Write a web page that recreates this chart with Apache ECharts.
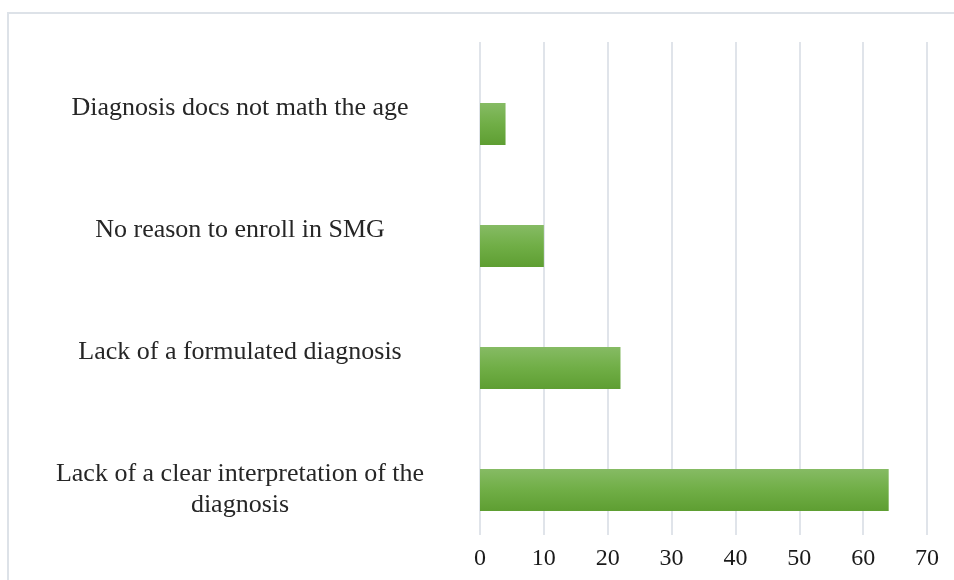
<!DOCTYPE html>
<html>
<head>
<meta charset="utf-8">
<script type="text/javascript" src="https://cdn.jsdelivr.net/npm/echarts@6/dist/echarts.min.js"></script>
<style>
  html, body { margin: 0; padding: 0; background: #fff; }
  #wrap { position: relative; width: 954px; height: 580px; overflow: hidden; }
  #frame { position: absolute; left: 7px; top: 12px; width: 1000px; height: 700px; border: 2px solid #dde2e8; }
  #container { position: absolute; left: 0; top: 0; width: 954px; height: 580px; }
</style>
</head>
<body>
<div id="wrap">
  <div id="frame"></div>
  <div id="container"></div>
</div>
<script type="text/javascript">
// data
var categories = [
    'Diagnosis docs not math the age',
    'No reason to enroll in SMG',
    'Lack of a formulated diagnosis',
    'Lack of a clear interpretation of the\ndiagnosis'
];
var values = [4, 10, 22, 64];
var xMin = 0, xMax = 70, xStep = 10;

window.onload = function () {
    var myChart = echarts.init(document.getElementById('container'));
    var serif = '"Liberation Serif", "DejaVu Serif", serif';

    var option = {
        animation: false,
        grid: [
            // grid for vertical grid lines + value labels
            {left: 480, width: 447, top: 42, height: 493},
            // grid for bars + category labels
            {left: 480, width: 447, top: 63, height: 488}
        ],
        xAxis: [
            {
                gridIndex: 0, type: 'value', min: xMin, max: xMax, interval: xStep,
                axisLine: {show: false}, axisTick: {show: false},
                splitLine: {show: true, lineStyle: {color: '#e0e4ea', width: 2}},
                axisLabel: {margin: 12, fontFamily: serif, fontSize: 24, color: '#1a1a1a'}
            },
            {
                gridIndex: 1, type: 'value', min: xMin, max: xMax, interval: xStep,
                show: false, splitLine: {show: false}
            }
        ],
        yAxis: [
            {
                gridIndex: 0, type: 'category', data: categories, show: false
            },
            {
                gridIndex: 1, type: 'category', data: categories, inverse: true,
                axisLine: {show: false}, axisTick: {show: false},
                axisLabel: {
                    margin: 240,
                    align: 'center',
                    verticalAlign: 'middle',
                    fontFamily: serif, fontSize: 26, color: '#262626',
                    lineHeight: 31,
                    padding: [0, 0, 17, 0],
                    formatter: function (v) {
                        return v.indexOf('\n') < 0 ? v + '\n ' : v;
                    }
                }
            }
        ],
        series: [
            {
                type: 'bar',
                xAxisIndex: 1, yAxisIndex: 1,
                data: values,
                barWidth: 42,
                itemStyle: {
                    color: new echarts.graphic.LinearGradient(0, 0, 0, 1, [
                        {offset: 0, color: '#86bb64'},
                        {offset: 0.5, color: '#70ae46'},
                        {offset: 1, color: '#5e9e32'}
                    ])
                }
            }
        ]
    };

    myChart.setOption(option);
};
</script>
</body>
</html>
